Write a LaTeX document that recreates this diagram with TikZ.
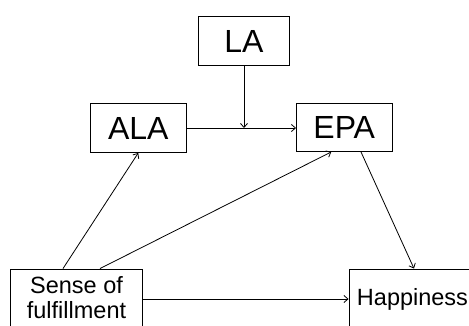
\documentclass[tikz,border=0pt]{standalone}
\usepackage{fontspec}
\setmainfont{Liberation Sans}
\usetikzlibrary{arrows.meta}
\begin{document}
\begin{tikzpicture}[x=1pt,y=-1pt,
  box/.style={draw,line width=0.9pt,inner sep=0pt,minimum width=#1},
  big/.style={font=\fontsize{32}{33}\selectfont},
  small/.style={font=\fontsize{23.5}{25.5}\selectfont,align=center},
  arr/.style={line width=0.8pt,-{Straight Barb[length=4pt,width=7pt]}}]
\useasboundingbox (0,0) rectangle (469,325);
\clip (0,0) rectangle (469,325);
\node[box=91pt,big,minimum height=49pt] (la) at (244,41) {LA};
\node[box=95.5pt,big,minimum height=49pt] (ala) at (138.25,128) {ALA};
\node[box=95.5pt,big,minimum height=48pt] (epa) at (344.25,127.5) {EPA};
\node[box=132pt,small,minimum height=57pt] (sense) at (76.5,297.5) {Sense of\\fulfillment};
\node[box=127pt,small,minimum height=60pt] (happy) at (412.5,299) {Happiness};
\coordinate (m) at (la.south |- ala.east);
\draw[arr] (ala.east) -- (ala.east -| epa.west);
\draw[arr] (la.south) -- (m);
\draw[arr] ([xshift=-13.5pt]sense.north) -- (ala.south);
\draw[arr] ([xshift=23.5pt]sense.north) -- ([xshift=-13pt]epa.south);
\draw[arr] ([xshift=16.75pt]epa.south) -- ([xshift=1.5pt]happy.north);
\draw[arr] ([yshift=-1.5pt]sense.east) -- ([yshift=-1.5pt]sense.east -| happy.west);
\end{tikzpicture}
\end{document}
